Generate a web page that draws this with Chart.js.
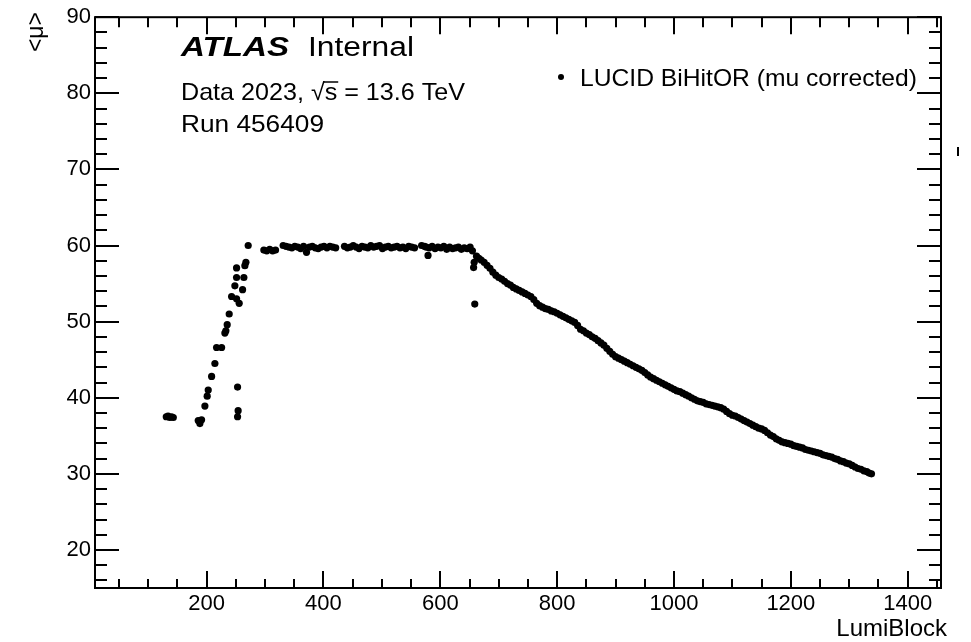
<!DOCTYPE html>
<html>
<head>
<meta charset="utf-8">
<script src="https://cdn.jsdelivr.net/npm/chart.js@4.4.1/dist/chart.umd.min.js"></script>
<style>
  html, body { margin: 0; padding: 0; background: #ffffff; }
  #wrap { width: 971px; height: 642px; }
</style>
</head>
<body>
<div id="wrap"><canvas id="c" width="971" height="642"></canvas></div>
<script>
// ---- Data ----
const seriesLabel = "LUCID BiHitOR (mu corrected)";
const xTickValues = [200, 400, 600, 800, 1000, 1200, 1400];
const yTickValues = [20, 30, 40, 50, 60, 70, 80, 90];

const startLB = [131, 134, 137, 140, 143];
const startMu = [37.5, 37.6, 37.4, 37.5, 37.4];

const rampLB = [185.7, 188.5, 191.4, 197.1, 201, 202.8, 208.6, 214.2, 217.1, 225.7, 231.3, 233, 235.3, 238.7, 242.8, 248.4, 251.3, 255.8, 261.6, 251.3, 263.8, 251.3, 265.5, 267.3, 271.2];
const rampMu = [37.0, 36.6, 37.1, 38.9, 40.2, 41.0, 42.8, 44.5, 46.6, 46.6, 48.5, 48.8, 49.6, 51.0, 53.3, 54.7, 53.0, 52.4, 54.2, 55.8, 55.8, 57.05, 57.35, 57.8, 60.0];

const plateauLB = [298, 303, 308, 313, 318, 331, 336, 341, 346, 351, 356, 361, 366, 371, 376, 381, 386, 391, 396, 401, 406, 411, 416, 421, 436, 441, 446, 451, 456, 461, 466, 471, 476, 481, 486, 491, 496, 501, 506, 511, 516, 521, 526, 531, 536, 541, 546, 551, 556, 568, 573, 576, 581, 586, 591, 596, 601, 606, 611, 616, 621, 626, 631, 636, 641, 646, 651, 655];
const plateauMu = [59.4, 59.3, 59.5, 59.3, 59.4, 60.0, 59.9, 59.8, 59.7, 59.9, 59.8, 59.6, 59.9, 59.1, 59.8, 59.9, 59.7, 59.6, 59.8, 59.9, 59.7, 59.9, 59.8, 59.7, 59.9, 59.7, 59.8, 60.0, 59.8, 59.6, 59.9, 59.8, 59.7, 60.0, 59.8, 59.9, 60.0, 59.6, 59.8, 59.9, 59.7, 59.8, 59.9, 59.7, 59.8, 59.6, 59.9, 59.8, 59.7, 60.0, 59.9, 59.8, 59.7, 59.9, 59.6, 59.8, 59.7, 59.9, 59.5, 59.8, 59.6, 59.7, 59.8, 59.5, 59.7, 59.6, 59.8, 59.3];

const outlierLB = [253, 254, 253, 579, 657, 658, 659];
const outlierMu = [41.4, 38.3, 37.5, 58.7, 57.1, 57.8, 52.3];

const declineLB = [662, 666, 670, 675, 680, 685, 690, 695, 700, 705, 710, 715, 720, 725, 730, 735, 740, 745, 750, 755, 760, 765, 770, 775, 780, 785, 790, 795, 800, 805, 810, 815, 820, 825, 830, 835, 840, 845, 850, 855, 860, 865, 870, 875, 880, 885, 890, 895, 900, 905, 910, 915, 920, 925, 930, 935, 940, 945, 950, 955, 960, 965, 970, 975, 980, 985, 990, 995, 1000, 1005, 1010, 1015, 1020, 1025, 1030, 1035, 1040, 1045, 1050, 1055, 1060, 1065, 1070, 1075, 1080, 1085, 1090, 1095, 1100, 1105, 1110, 1115, 1120, 1125, 1130, 1135, 1140, 1145, 1150, 1155, 1160, 1165, 1170, 1175, 1180, 1185, 1190, 1195, 1200, 1205, 1210, 1215, 1220, 1225, 1230, 1235, 1240, 1245, 1250, 1255, 1260, 1265, 1270, 1275, 1280, 1285, 1290, 1295, 1300, 1305, 1310, 1315, 1320, 1325, 1330, 1334, 1338];
const declineMu = [58.6, 58.3, 58.1, 57.8, 57.4, 57.0, 56.5, 56.1, 55.8, 55.6, 55.3, 55.0, 54.8, 54.5, 54.3, 54.1, 53.9, 53.7, 53.5, 53.3, 52.9, 52.4, 52.1, 51.9, 51.7, 51.6, 51.4, 51.3, 51.1, 50.9, 50.7, 50.5, 50.3, 50.1, 49.9, 49.5, 49.0, 48.8, 48.5, 48.3, 48.0, 47.8, 47.5, 47.2, 46.9, 46.5, 46.1, 45.7, 45.4, 45.2, 45.0, 44.8, 44.6, 44.4, 44.2, 44.0, 43.8, 43.6, 43.3, 43.0, 42.7, 42.5, 42.3, 42.1, 41.9, 41.7, 41.5, 41.3, 41.1, 40.9, 40.8, 40.6, 40.4, 40.2, 40.0, 39.8, 39.6, 39.5, 39.4, 39.2, 39.1, 39.0, 38.9, 38.8, 38.7, 38.5, 38.2, 37.9, 37.7, 37.6, 37.4, 37.2, 37.0, 36.8, 36.6, 36.4, 36.2, 36.0, 35.9, 35.7, 35.4, 35.1, 34.9, 34.6, 34.4, 34.2, 34.1, 34.0, 33.9, 33.7, 33.6, 33.5, 33.4, 33.2, 33.1, 33.0, 32.9, 32.8, 32.7, 32.5, 32.4, 32.3, 32.2, 32.0, 31.9, 31.7, 31.6, 31.4, 31.3, 31.1, 30.9, 30.7, 30.6, 30.4, 30.3, 30.1, 30.0];

function pairs(xs, ys) { return xs.map((x, i) => ({ x: x, y: ys[i] })); }
const allPoints = [].concat(
  pairs(startLB, startMu),
  pairs(rampLB, rampMu),
  pairs(plateauLB, plateauMu),
  pairs(outlierLB, outlierMu),
  pairs(declineLB, declineMu)
);

const FONT = '"Liberation Sans", Arial, Helvetica, sans-serif';

function fitText(ctx, text, x, y, targetW) {
  const w = ctx.measureText(text).width;
  const sx = targetW / w;
  ctx.save();
  ctx.translate(x, y);
  ctx.scale(sx, 1);
  ctx.fillText(text, 0, 0);
  ctx.restore();
  return sx;
}

const rootFrame = {
  id: 'rootFrame',
  afterDraw(chart) {
    const ctx = chart.ctx;
    const a = chart.chartArea;
    const xs = chart.scales.x, ys = chart.scales.y;
    ctx.save();
    ctx.strokeStyle = '#000';
    ctx.lineWidth = 2;
    ctx.strokeRect(a.left, a.top, a.right - a.left, a.bottom - a.top);
    ctx.beginPath();
    for (let v = 50; v <= xs.max; v += 50) {
      if (v < xs.min) continue;
      const px = Math.round(xs.getPixelForValue(v));
      const major = (v % 200 === 0);
      const lb = major ? 17 : 9;
      const lt = major ? 17 : 10;
      ctx.moveTo(px, a.bottom); ctx.lineTo(px, a.bottom - lb);
      ctx.moveTo(px, a.top); ctx.lineTo(px, a.top + lt);
    }
    for (let v = 16; v <= ys.max; v += 2) {
      const py = Math.round(ys.getPixelForValue(v));
      const major = (v % 10 === 0);
      const l = major ? 24 : 12;
      ctx.moveTo(a.left, py); ctx.lineTo(a.left + l, py);
      ctx.moveTo(a.right, py); ctx.lineTo(a.right - l, py);
    }
    ctx.stroke();

    // small stray mark at the right edge of the canvas (present in the reference)
    ctx.lineWidth = 2;
    ctx.beginPath();
    ctx.moveTo(958, 147); ctx.lineTo(958, 156);
    ctx.stroke();

    ctx.fillStyle = '#000';
    ctx.strokeStyle = '#000';
    ctx.textBaseline = 'alphabetic';
    ctx.textAlign = 'left';

    ctx.font = 'bold italic 28px ' + FONT;
    fitText(ctx, 'ATLAS', 181, 56, 108);
    ctx.font = '27px ' + FONT;
    fitText(ctx, 'Internal', 308, 56, 106);

    ctx.font = '24px ' + FONT;
    const full = 'Data 2023, \u221As = 13.6 TeV';
    const sx = fitText(ctx, full, 181, 100, 284);
    const pre = ctx.measureText('Data 2023, \u221A').width * sx;
    const ws = ctx.measureText('s').width * sx;
    ctx.lineWidth = 1.5;
    ctx.beginPath();
    ctx.moveTo(181 + pre - 1, 82); ctx.lineTo(181 + pre + ws + 1, 82);
    ctx.stroke();

    fitText(ctx, 'Run 456409', 181, 132, 143);

    ctx.beginPath();
    ctx.arc(561, 77, 3, 0, Math.PI * 2);
    ctx.fill();
    fitText(ctx, seriesLabel, 580, 86, 337);

    ctx.font = '24px ' + FONT;
    ctx.textAlign = 'right';
    ctx.fillText('LumiBlock', 947, 636);

    ctx.save();
    ctx.translate(43, 12);
    ctx.rotate(-Math.PI / 2);
    ctx.textAlign = 'right';
    ctx.font = '23px ' + FONT;
    ctx.fillText('<\u03BC>', 0, 0);
    ctx.restore();

    ctx.restore();
  }
};

new Chart(document.getElementById('c'), {
  type: 'scatter',
  data: {
    datasets: [{
      label: seriesLabel,
      data: allPoints,
      backgroundColor: '#000',
      borderColor: '#000',
      pointRadius: 3.6,
      pointBorderWidth: 0,
      pointHoverRadius: 3.6
    }]
  },
  options: {
    responsive: false,
    devicePixelRatio: 1,
    animation: false,
    events: [],
    layout: { padding: { left: 0, right: 30, top: 15, bottom: 0 } },
    plugins: { legend: { display: false }, tooltip: { enabled: false }, title: { display: false } },
    scales: {
      x: {
        type: 'linear',
        min: 9, max: 1457,
        afterBuildTicks: (s) => { s.ticks = xTickValues.map(v => ({ value: v })); },
        afterFit: (s) => { s.height = 54; },
        grid: { display: false, drawTicks: false },
        border: { display: false },
        ticks: { color: '#000', padding: 3, maxRotation: 0, autoSkip: false, callback: (v) => String(v), font: { family: FONT, size: 22 } }
      },
      y: {
        type: 'linear',
        min: 15, max: 90,
        afterBuildTicks: (s) => { s.ticks = yTickValues.map(v => ({ value: v })); },
        afterFit: (s) => { s.width = 95; },
        grid: { display: false, drawTicks: false },
        border: { display: false },
        ticks: { color: '#000', padding: 4, autoSkip: false, callback: (v) => String(v), font: { family: FONT, size: 22 } }
      }
    }
  },
  plugins: [rootFrame]
});
</script>
</body>
</html>
